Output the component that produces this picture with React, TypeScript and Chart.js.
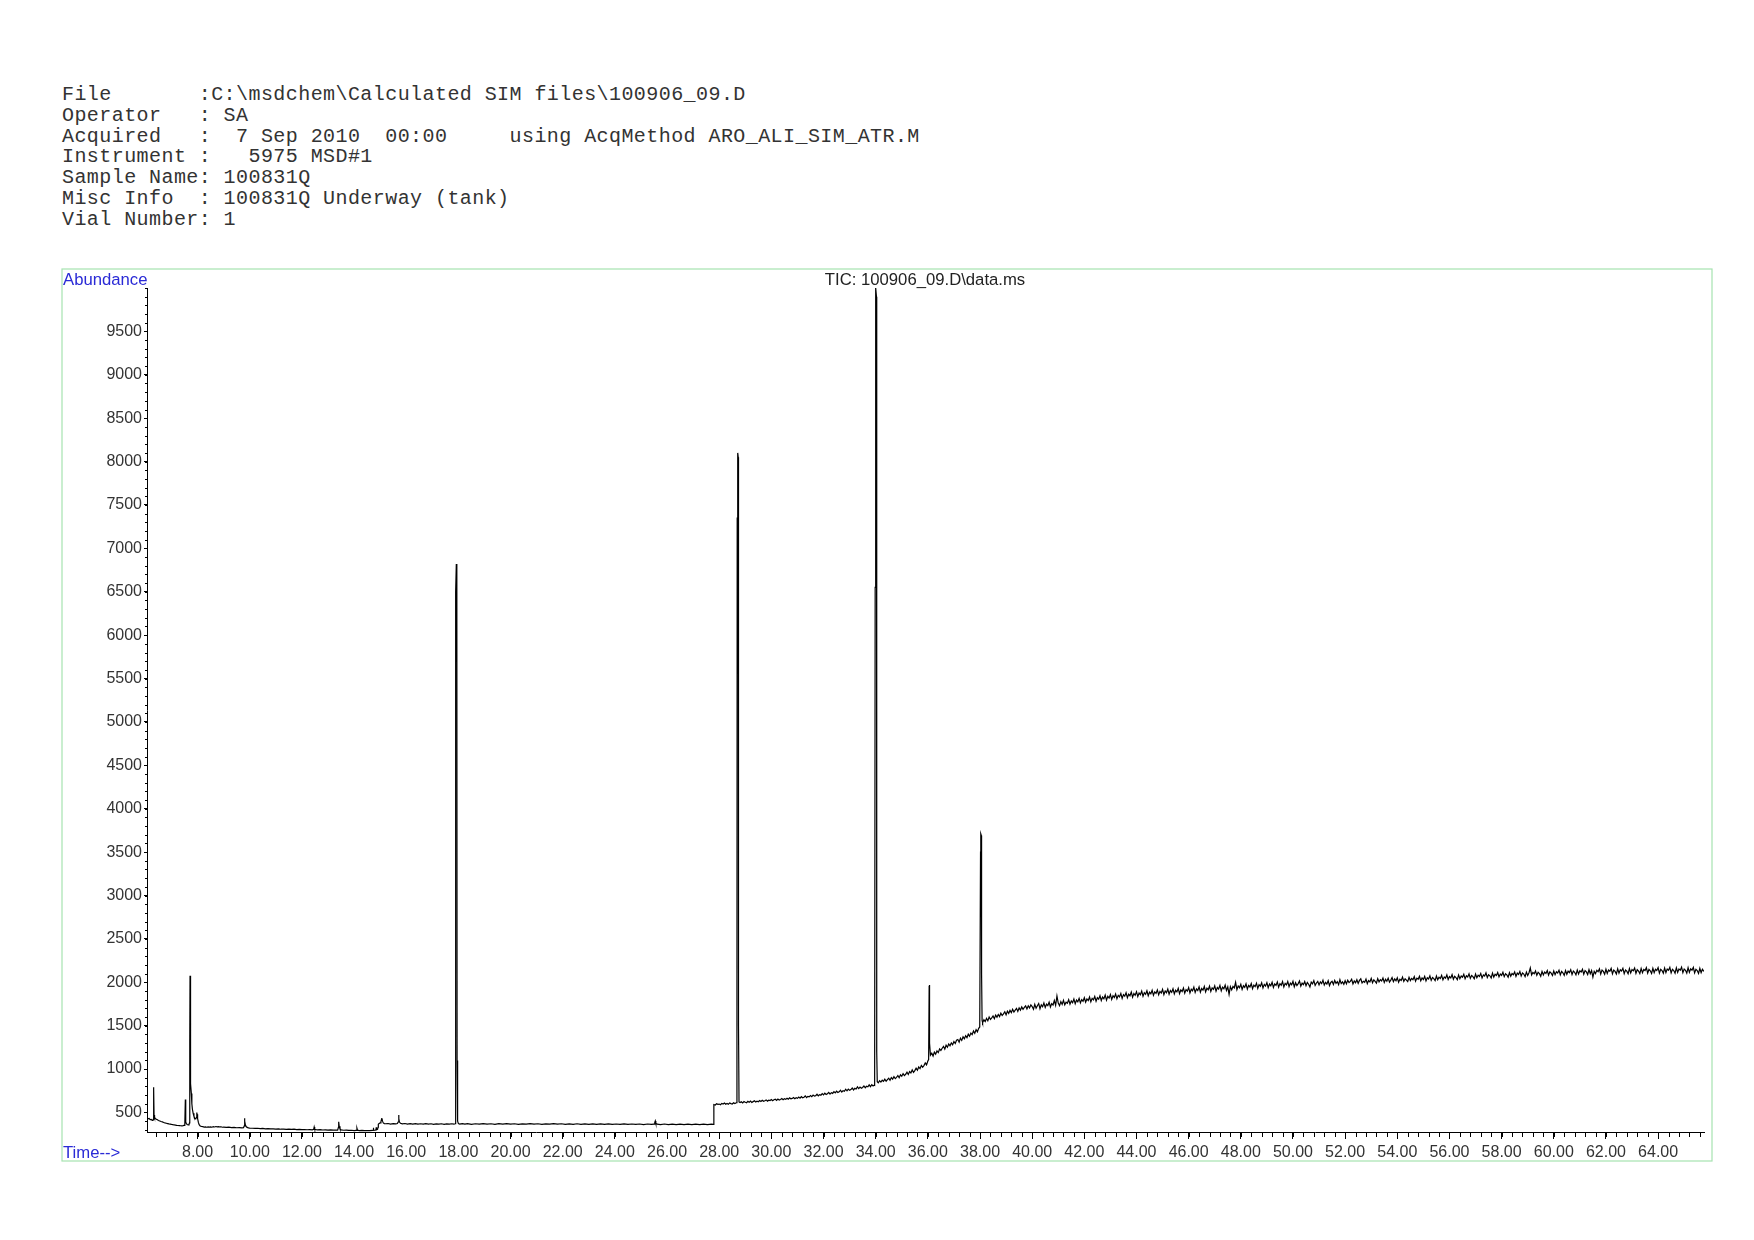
import React, { useEffect, useRef } from "react";
import { Chart, registerables } from "chart.js";

Chart.register(...registerables);

// ---------- header text ----------
const headerLines: string[] = [
  "File       :C:\\msdchem\\Calculated SIM files\\100906_09.D",
  "Operator   : SA",
  "Acquired   :  7 Sep 2010  00:00     using AcqMethod ARO_ALI_SIM_ATR.M",
  "Instrument :   5975 MSD#1",
  "Sample Name: 100831Q",
  "Misc Info  : 100831Q Underway (tank)",
  "Vial Number: 1",
];

const chartTitle = "TIC: 100906_09.D\\data.ms";
const yAxisTitle = "Abundance";
const xAxisTitle = "Time-->";

// ---------- axes ----------
const timeMin = 6.06;
const timeMax = 65.76;
const abundanceMin = 275;
const abundanceMax = 10000;
const timeTicks: number[] = [8, 10, 12, 14, 16, 18, 20, 22, 24, 26, 28, 30, 32, 34, 36, 38, 40, 42, 44, 46, 48, 50, 52, 54, 56, 58, 60, 62, 64];
const abundanceTicks: number[] = [500, 1000, 1500, 2000, 2500, 3000, 3500, 4000, 4500, 5000, 5500, 6000, 6500, 7000, 7500, 8000, 8500, 9000, 9500];

// ---------- trace data: [time (min), abundance] ----------
const traceEarly: [number, number][] = [
  [6.06, 445], [6.1, 428], [6.14, 432], [6.18, 418], [6.22, 420], [6.26, 408], [6.29, 412], [6.3, 420], [6.31, 790], [6.32, 770], [6.33, 470],
  [6.35, 445], [6.38, 430], [6.42, 422], [6.46, 415], [6.5, 408], [6.55, 402], [6.6, 396], [6.65, 392], [6.7, 385], [6.75, 380], [6.8, 376],
  [6.85, 372], [6.9, 368], [6.95, 366], [7.0, 362], [7.05, 360], [7.1, 356], [7.15, 355], [7.2, 352], [7.25, 350], [7.3, 349], [7.35, 347],
  [7.4, 346], [7.45, 348], [7.48, 352], [7.51, 365], [7.53, 650], [7.54, 520], [7.55, 390], [7.57, 370], [7.6, 362], [7.64, 358], [7.67, 362],
  [7.69, 380], [7.7, 1320], [7.71, 2075], [7.72, 2060], [7.73, 1380], [7.74, 830], [7.76, 720], [7.78, 600], [7.8, 540], [7.83, 490],
  [7.86, 455], [7.9, 430], [7.93, 425], [7.96, 445], [7.97, 500], [7.98, 480], [8.0, 430], [8.03, 385], [8.06, 360], [8.1, 345], [8.15, 338],
  [8.2, 336], [8.25, 332], [8.3, 334], [8.35, 330], [8.4, 333], [8.45, 331], [8.5, 334], [8.55, 330], [8.6, 336], [8.65, 333], [8.7, 338],
  [8.75, 334], [8.8, 337], [8.85, 333], [8.9, 335], [8.95, 330], [9.0, 332], [9.1, 328], [9.2, 330], [9.3, 326], [9.4, 328], [9.5, 324],
  [9.6, 326], [9.7, 322], [9.76, 325], [9.79, 345], [9.8, 432], [9.81, 400], [9.83, 360], [9.86, 338], [9.9, 328], [9.95, 322], [10.0, 320],
  [10.1, 318], [10.2, 316], [10.3, 318], [10.4, 314], [10.5, 316], [10.6, 312], [10.7, 314], [10.8, 310], [10.9, 312], [11.0, 309],
  [11.1, 311], [11.2, 307], [11.3, 309], [11.4, 306], [11.5, 308], [11.6, 305], [11.7, 307], [11.8, 303], [11.9, 305], [12.0, 302],
  [12.1, 304], [12.2, 301], [12.3, 303], [12.4, 300], [12.45, 305], [12.47, 332], [12.49, 305], [12.55, 302], [12.6, 300], [12.7, 302],
  [12.8, 298], [12.9, 300], [13.0, 297], [13.1, 299], [13.2, 296], [13.3, 298], [13.37, 296], [13.4, 330], [13.41, 392], [13.43, 340],
  [13.46, 310], [13.5, 300], [13.6, 295], [13.7, 297], [13.8, 293], [13.9, 295], [14.0, 292], [14.08, 294], [14.11, 318], [14.13, 296],
  [14.2, 292], [14.3, 294], [14.4, 290], [14.5, 292], [14.6, 290], [14.7, 293], [14.73, 292], [14.74, 325], [14.75, 294], [14.8, 296],
  [14.84, 298], [14.85, 330], [14.86, 300], [14.9, 305],
];

const traceMiddle: [number, number][] = [
  [14.92, 330], [14.93, 365], [14.96, 372], [15.0, 380], [15.03, 395], [15.06, 428], [15.07, 432], [15.09, 400], [15.12, 380], [15.16, 372],
  [15.2, 370], [15.3, 373], [15.4, 367], [15.5, 372], [15.6, 368], [15.66, 372], [15.69, 390], [15.71, 472], [15.72, 430], [15.74, 390],
  [15.78, 375], [15.85, 369], [15.95, 373], [16.05, 367], [16.15, 372], [16.25, 366], [16.35, 371], [16.45, 365], [16.55, 370], [16.65, 366],
  [16.75, 371], [16.85, 365], [16.95, 370], [17.05, 364], [17.15, 369], [17.25, 365], [17.35, 370], [17.45, 364], [17.55, 369], [17.65, 365],
  [17.75, 370], [17.83, 366], [17.88, 370], [17.89, 1050], [17.9, 6500], [17.92, 6820], [17.94, 6760], [17.95, 1100], [17.97, 400],
  [18.0, 372], [18.05, 367], [18.15, 372], [18.25, 365], [18.35, 371], [18.5, 364], [18.65, 370], [18.8, 365], [18.95, 371], [19.1, 365],
  [19.25, 370], [19.4, 364], [19.55, 371], [19.7, 366], [19.85, 372], [20.0, 365], [20.15, 370], [20.3, 364], [20.45, 369], [20.6, 365],
  [20.75, 371], [20.9, 365], [21.05, 370], [21.2, 364], [21.35, 369], [21.5, 365], [21.65, 371], [21.8, 365], [21.95, 370], [22.1, 364],
  [22.25, 369], [22.4, 364], [22.55, 370], [22.7, 364], [22.85, 369], [23.0, 363], [23.15, 368], [23.3, 363], [23.45, 368], [23.6, 362],
  [23.75, 368], [23.9, 363], [24.05, 367], [24.2, 362], [24.35, 368], [24.5, 362], [24.65, 367], [24.8, 362], [24.95, 367], [25.1, 361],
  [25.25, 367], [25.4, 362], [25.5, 366], [25.53, 385], [25.55, 402], [25.57, 375], [25.62, 365], [25.75, 361], [25.9, 367], [26.05, 361],
  [26.2, 366], [26.35, 360], [26.5, 366], [26.65, 361], [26.8, 366], [26.95, 360], [27.1, 365], [27.25, 360], [27.4, 365], [27.55, 360],
  [27.7, 365], [27.77, 362],
];

const traceLateA: [number, number][] = [
  [27.79, 585], [27.8, 592], [27.85, 586], [27.9, 601], [27.95, 594], [28.0, 597], [28.05, 589], [28.1, 605], [28.15, 598], [28.2, 608],
  [28.25, 595], [28.3, 603], [28.35, 594], [28.4, 610], [28.45, 602], [28.5, 598], [28.55, 611], [28.6, 603], [28.64, 609],
  [28.66, 612], [28.68, 1800], [28.69, 7350], [28.71, 8100], [28.73, 8050], [28.74, 1500], [28.76, 622],
  [28.8, 614], [28.85, 624], [28.9, 611], [28.95, 626], [29.0, 618], [29.05, 612], [29.1, 628], [29.15, 619], [29.2, 632], [29.25, 616],
  [29.3, 625], [29.35, 634], [29.4, 621], [29.45, 630], [29.5, 624], [29.55, 638], [29.6, 627], [29.65, 641], [29.7, 629], [29.75, 636],
  [29.8, 645], [29.85, 631], [29.9, 642], [29.95, 637], [30.0, 648], [30.05, 635], [30.1, 646], [30.15, 652], [30.2, 640], [30.25, 655],
  [30.3, 644], [30.35, 650], [30.4, 660], [30.45, 646], [30.5, 658], [30.55, 651], [30.6, 664], [30.65, 652], [30.7, 668], [30.75, 657],
  [30.8, 662], [30.85, 672], [30.9, 659], [30.95, 670], [31.0, 663], [31.05, 677], [31.1, 665], [31.15, 682], [31.2, 670], [31.25, 676],
  [31.3, 690], [31.35, 672], [31.4, 686], [31.45, 680], [31.5, 696], [31.55, 683], [31.6, 700], [31.65, 688], [31.7, 694], [31.75, 710],
  [31.8, 692], [31.85, 706], [31.9, 699], [31.95, 718], [32.0, 703], [32.05, 722], [32.1, 708], [32.15, 716], [32.2, 732], [32.25, 712],
  [32.3, 728], [32.35, 720], [32.4, 741], [32.45, 726], [32.5, 745], [32.55, 730], [32.6, 738], [32.65, 756], [32.7, 736], [32.75, 752],
  [32.8, 745], [32.85, 768], [32.9, 750], [32.95, 770], [33.0, 755], [33.05, 764], [33.1, 782], [33.15, 760], [33.2, 778], [33.25, 770],
  [33.3, 795], [33.35, 775], [33.4, 792], [33.45, 780], [33.5, 788], [33.55, 806], [33.6, 785], [33.65, 802], [33.7, 796], [33.75, 818],
  [33.8, 798], [33.85, 820], [33.9, 806], [33.94, 815], [33.96, 812],
];

const traceLateB: [number, number][] = [
  [33.98, 6550], [33.99, 9990], [34.01, 10000], [34.03, 9900], [34.04, 1200],
  [34.06, 855], [34.1, 842], [34.15, 866], [34.2, 850], [34.25, 872], [34.3, 858], [34.35, 884], [34.4, 860], [34.45, 878], [34.5, 894],
  [34.55, 870], [34.6, 902], [34.65, 884], [34.7, 912], [34.75, 890], [34.8, 905], [34.85, 926], [34.9, 900], [34.95, 934], [35.0, 918],
  [35.05, 948], [35.1, 925], [35.15, 940], [35.2, 964], [35.25, 938], [35.3, 972], [35.35, 955], [35.4, 990], [35.45, 962], [35.5, 982],
  [35.55, 1010], [35.6, 988], [35.65, 1025], [35.7, 1005], [35.75, 1042], [35.8, 1022], [35.85, 1040], [35.9, 1070], [35.95, 1048],
  [36.0, 1092], [36.03, 1110], [36.05, 1960], [36.06, 1970], [36.07, 1300],
  [36.1, 1160], [36.15, 1182], [36.2, 1150], [36.25, 1195], [36.3, 1172], [36.35, 1210], [36.4, 1190], [36.45, 1232], [36.5, 1215],
  [36.55, 1240], [36.6, 1262], [36.65, 1230], [36.7, 1275], [36.75, 1252], [36.8, 1290], [36.85, 1268], [36.9, 1302], [36.95, 1280],
  [37.0, 1318], [37.05, 1295], [37.1, 1332], [37.15, 1340], [37.2, 1310], [37.25, 1356], [37.3, 1330], [37.35, 1372], [37.4, 1350],
  [37.45, 1385], [37.5, 1362], [37.55, 1402], [37.6, 1378], [37.65, 1415], [37.7, 1398], [37.75, 1440], [37.8, 1412], [37.85, 1455],
  [37.9, 1430], [37.95, 1470], [37.99, 1485], [38.02, 3500], [38.03, 3710], [38.05, 3690], [38.06, 2100], [38.08, 1560],
  [38.1, 1535], [38.15, 1568], [38.2, 1548], [38.25, 1585], [38.3, 1556], [38.35, 1600], [38.4, 1572], [38.45, 1590], [38.5, 1612],
  [38.55, 1580], [38.6, 1622], [38.65, 1598], [38.7, 1630], [38.75, 1605], [38.8, 1645], [38.85, 1618], [38.9, 1636], [38.95, 1660],
  [39.0, 1625], [39.05, 1668], [39.1, 1642], [39.15, 1676], [39.2, 1650], [39.25, 1690], [39.3, 1658], [39.35, 1680], [39.4, 1700],
  [39.45, 1665], [39.5, 1705], [39.55, 1680], [39.6, 1716], [39.65, 1688], [39.7, 1710], [39.75, 1728], [39.8, 1692], [39.85, 1730],
  [39.9, 1705], [39.95, 1740],
];

const traceLateC: [number, number][] = [
  [40.0, 1720], [40.05, 1688], [40.1, 1745], [40.15, 1702], [40.2, 1730], [40.25, 1756], [40.3, 1695], [40.35, 1740], [40.4, 1718],
  [40.45, 1762], [40.5, 1710], [40.55, 1748], [40.6, 1732], [40.65, 1770], [40.7, 1715], [40.75, 1755], [40.8, 1738], [40.85, 1790],
  [40.9, 1735], [40.95, 1842], [41.0, 1760], [41.05, 1730], [41.1, 1778], [41.15, 1745], [41.2, 1792], [41.25, 1740], [41.3, 1770],
  [41.35, 1758], [41.4, 1800], [41.45, 1748], [41.5, 1785], [41.55, 1765], [41.6, 1808], [41.65, 1752], [41.7, 1795], [41.75, 1775],
  [41.8, 1815], [41.85, 1762], [41.9, 1800], [41.95, 1782], [42.0, 1822], [42.05, 1770], [42.1, 1808], [42.15, 1790], [42.2, 1830],
  [42.25, 1775], [42.3, 1815], [42.35, 1798], [42.4, 1838], [42.45, 1782], [42.5, 1822], [42.55, 1805], [42.6, 1845], [42.65, 1790],
  [42.7, 1830], [42.75, 1810], [42.8, 1852], [42.85, 1795], [42.9, 1838], [42.95, 1818], [43.0, 1860], [43.05, 1802], [43.1, 1845],
  [43.15, 1825], [43.2, 1866], [43.25, 1810], [43.3, 1850], [43.35, 1832], [43.4, 1872], [43.45, 1815], [43.5, 1858], [43.55, 1840],
  [43.6, 1880], [43.65, 1822], [43.7, 1862], [43.75, 1845], [43.8, 1888], [43.85, 1828], [43.9, 1870], [43.95, 1850], [44.0, 1892],
  [44.05, 1835], [44.1, 1876], [44.15, 1856], [44.2, 1898], [44.25, 1840], [44.3, 1880], [44.35, 1862], [44.4, 1902], [44.45, 1845],
  [44.5, 1886], [44.55, 1868], [44.6, 1908], [44.65, 1850], [44.7, 1890], [44.75, 1872], [44.8, 1912], [44.85, 1855], [44.9, 1895],
  [44.95, 1876], [45.0, 1918], [45.05, 1858], [45.1, 1900], [45.15, 1880], [45.2, 1922], [45.25, 1862], [45.3, 1905], [45.35, 1885],
  [45.4, 1926], [45.45, 1866], [45.5, 1908], [45.55, 1890], [45.6, 1930], [45.65, 1870], [45.7, 1912], [45.75, 1894], [45.8, 1935],
  [45.85, 1874], [45.9, 1916], [45.95, 1898], [46.0, 1940], [46.05, 1878], [46.1, 1920], [46.15, 1902], [46.2, 1944], [46.25, 1882],
  [46.3, 1924], [46.35, 1906], [46.4, 1948], [46.45, 1886], [46.5, 1928], [46.55, 1910], [46.6, 1952], [46.65, 1890], [46.7, 1932],
  [46.75, 1914], [46.8, 1956], [46.85, 1894], [46.9, 1936], [46.95, 1918], [47.0, 1960], [47.05, 1898], [47.1, 1940], [47.15, 1922],
  [47.2, 1964], [47.25, 1902], [47.3, 1944], [47.35, 1926], [47.4, 1968], [47.45, 1906], [47.5, 1948], [47.55, 1860], [47.6, 1950],
  [47.65, 1912], [47.7, 1952], [47.75, 1935], [47.8, 2000], [47.85, 1915], [47.9, 1958], [47.95, 1938], [48.0, 1978], [48.05, 1918],
  [48.1, 1960], [48.15, 1942], [48.2, 1982], [48.25, 1922], [48.3, 1964], [48.35, 1946], [48.4, 1986], [48.45, 1926], [48.5, 1968],
  [48.55, 1950], [48.6, 1990], [48.65, 1930], [48.7, 1972], [48.75, 1954], [48.8, 1994], [48.85, 1934], [48.9, 1976], [48.95, 1957],
  [49.0, 1996], [49.05, 1938], [49.1, 1980], [49.15, 1960], [49.2, 2000], [49.25, 1940], [49.3, 1982], [49.35, 1964], [49.4, 2004],
  [49.45, 1944], [49.5, 1985], [49.55, 1966], [49.6, 2008], [49.65, 1946], [49.7, 1988], [49.75, 1970], [49.8, 2010], [49.85, 1950],
  [49.9, 1990], [49.95, 1972], [50.0, 2012], [50.05, 1948], [50.1, 1995], [50.15, 1962], [50.2, 1985], [50.25, 2015], [50.3, 1955],
  [50.35, 1990], [50.4, 1972], [50.45, 2008], [50.5, 1960], [50.55, 1998], [50.6, 1978], [50.65, 1945], [50.7, 2002], [50.75, 1982],
  [50.8, 2020], [50.85, 1965], [50.9, 1992], [50.95, 2010], [51.0, 1970], [51.05, 2005], [51.1, 1985], [51.15, 2025], [51.2, 1968],
  [51.25, 2000], [51.3, 1980], [51.35, 2018], [51.4, 1962], [51.45, 1998], [51.5, 2012], [51.55, 1975], [51.6, 2022], [51.65, 1988],
  [51.7, 2008], [51.75, 1972], [51.8, 2030], [51.85, 1985], [51.9, 2005], [51.95, 1978],
];

const traceLateD: [number, number][] = [
  [52.0, 2018], [52.05, 1982], [52.1, 2025], [52.15, 1998], [52.2, 2010], [52.25, 2035], [52.3, 1980], [52.35, 2015], [52.4, 1995],
  [52.45, 2030], [52.5, 1988], [52.55, 2022], [52.6, 2040], [52.65, 1992], [52.7, 2012], [52.75, 2000], [52.8, 2038], [52.85, 1985],
  [52.9, 2020], [52.95, 2005], [53.0, 2045], [53.05, 1995], [53.1, 2028], [53.15, 2010], [53.2, 1990], [53.25, 2042], [53.3, 2005],
  [53.35, 2030], [53.4, 2015], [53.45, 2050], [53.5, 1998], [53.55, 2035], [53.6, 2012], [53.65, 2048], [53.7, 2002], [53.75, 2025],
  [53.8, 2055], [53.85, 2008], [53.9, 2038], [53.95, 2018], [54.0, 2052], [54.05, 2000], [54.1, 2035], [54.15, 2022], [54.2, 2060],
  [54.25, 2010], [54.3, 2040], [54.35, 2025], [54.4, 2008], [54.45, 2058], [54.5, 2020], [54.55, 2045], [54.6, 2030], [54.65, 2065],
  [54.7, 2012], [54.75, 2048], [54.8, 2035], [54.85, 2070], [54.9, 2018], [54.95, 2050], [55.0, 2032], [55.05, 2068], [55.1, 2015],
  [55.15, 2052], [55.2, 2038], [55.25, 2075], [55.3, 2022], [55.35, 2055], [55.4, 2042], [55.45, 2020], [55.5, 2072], [55.55, 2030],
  [55.6, 2058], [55.65, 2045], [55.7, 2080], [55.75, 2028], [55.8, 2062], [55.85, 2048], [55.9, 2085], [55.95, 2032], [56.0, 2065],
  [56.05, 2050], [56.1, 2088], [56.15, 2035], [56.2, 2070], [56.25, 2055], [56.3, 2030], [56.35, 2085], [56.4, 2042], [56.45, 2072],
  [56.5, 2058], [56.55, 2092], [56.6, 2040], [56.65, 2075], [56.7, 2062], [56.75, 2098], [56.8, 2045], [56.85, 2078], [56.9, 2065],
  [56.95, 2040], [57.0, 2095], [57.05, 2052], [57.1, 2082], [57.15, 2068], [57.2, 2102], [57.25, 2050], [57.3, 2085], [57.35, 2072],
  [57.4, 2108], [57.45, 2055], [57.5, 2088], [57.55, 2075], [57.6, 2050], [57.65, 2105], [57.7, 2060], [57.75, 2092], [57.8, 2078],
  [57.85, 2112], [57.9, 2062], [57.95, 2095], [58.0, 2080], [58.05, 2115], [58.1, 2065], [58.15, 2098], [58.2, 2085], [58.25, 2058],
  [58.3, 2110], [58.35, 2070], [58.4, 2102], [58.45, 2088], [58.5, 2120], [58.55, 2068], [58.6, 2105], [58.65, 2090], [58.7, 2125],
  [58.75, 2072], [58.8, 2108], [58.85, 2095], [58.9, 2065], [58.95, 2118], [59.0, 2078], [59.05, 2110], [59.1, 2165], [59.15, 2085],
  [59.2, 2112], [59.25, 2098], [59.3, 2130], [59.35, 2080], [59.4, 2115], [59.45, 2100], [59.5, 2070], [59.55, 2125], [59.6, 2085],
  [59.65, 2118], [59.7, 2102], [59.75, 2135], [59.8, 2082], [59.85, 2120], [59.9, 2105], [59.95, 2078], [60.0, 2130], [60.05, 2088],
  [60.1, 2122], [60.15, 2108], [60.2, 2140], [60.25, 2085], [60.3, 2125], [60.35, 2110], [60.4, 2080], [60.45, 2135], [60.5, 2092],
  [60.55, 2128], [60.6, 2112], [60.65, 2145], [60.7, 2090], [60.75, 2130], [60.8, 2115], [60.85, 2085], [60.9, 2140], [60.95, 2095],
  [61.0, 2132], [61.05, 2118], [61.1, 2150], [61.15, 2092], [61.2, 2135], [61.25, 2120], [61.3, 2090], [61.35, 2145], [61.4, 2098],
  [61.45, 2135], [61.5, 2060], [61.55, 2125], [61.6, 2100], [61.65, 2138], [61.7, 2122], [61.75, 2155], [61.8, 2095], [61.85, 2140],
  [61.9, 2125], [61.95, 2092], [62.0, 2150], [62.05, 2102], [62.1, 2142], [62.15, 2128], [62.2, 2160], [62.25, 2098], [62.3, 2140],
  [62.35, 2125], [62.4, 2095], [62.45, 2155], [62.5, 2105], [62.55, 2145], [62.6, 2130], [62.65, 2162], [62.7, 2100], [62.75, 2142],
  [62.8, 2128], [62.85, 2098], [62.9, 2158], [62.95, 2108], [63.0, 2146], [63.05, 2132], [63.1, 2165], [63.15, 2102], [63.2, 2145],
  [63.25, 2130], [63.3, 2100], [63.35, 2160], [63.4, 2110], [63.45, 2148], [63.5, 2135], [63.55, 2168], [63.6, 2105], [63.65, 2148],
  [63.7, 2132], [63.75, 2102], [63.8, 2162], [63.85, 2112], [63.9, 2150], [63.95, 2136], [64.0, 2170], [64.05, 2106], [64.1, 2150],
  [64.15, 2135], [64.2, 2104], [64.25, 2165], [64.3, 2112], [64.35, 2152], [64.4, 2138], [64.45, 2172], [64.5, 2108], [64.55, 2150],
  [64.6, 2136], [64.65, 2105], [64.7, 2166], [64.75, 2114], [64.8, 2154], [64.85, 2140], [64.9, 2175], [64.95, 2110], [65.0, 2152],
  [65.05, 2138], [65.1, 2106], [65.15, 2168], [65.2, 2115], [65.25, 2155], [65.3, 2140], [65.35, 2172], [65.4, 2108], [65.45, 2150],
  [65.5, 2135], [65.55, 2102], [65.6, 2162], [65.65, 2112], [65.7, 2150], [65.76, 2125],
];

// ---------- styling ----------
const SANS = '"Liberation Sans", Arial, sans-serif';
const MONO = '"Liberation Mono", "DejaVu Sans Mono", monospace';
const BLUE = "#2a2ad6";
const FRAME = "#a6e3b0";
const LABEL = "#333333";

const decorPlugin = {
  id: "decor",
  afterDraw(chart: any) {
    const ctx = chart.ctx as CanvasRenderingContext2D;
    const xs = chart.scales.x;
    const ys = chart.scales.y;
    const area = chart.chartArea;
    ctx.save();
    // minor ticks
    ctx.strokeStyle = "#000";
    ctx.lineWidth = 1;
    ctx.beginPath();
    for (let i = 1; i * 0.4 <= xs.max; i++) {
      const v = i * 0.4;
      if (v < xs.min) continue;
      const px = Math.round(xs.getPixelForValue(v)) + 0.5;
      ctx.moveTo(px, area.bottom);
      ctx.lineTo(px, area.bottom + 5);
    }
    for (let v = 300; v <= ys.max; v += 100) {
      const py = Math.round(ys.getPixelForValue(v)) + 0.5;
      ctx.moveTo(area.left - 2, py);
      ctx.lineTo(area.left, py);
    }
    ctx.stroke();

    // frame
    ctx.strokeStyle = FRAME;
    ctx.lineWidth = 1.2;
    ctx.strokeRect(62, 269, 1650, 892);

    // texts
    ctx.font = `16.7px ${SANS}`;
    ctx.textBaseline = "middle";
    ctx.textAlign = "left";
    ctx.fillStyle = BLUE;
    ctx.fillText(yAxisTitle, 63, 280.5);
    ctx.fillText(xAxisTitle, 63, 1153);
    ctx.fillStyle = "#222";
    ctx.textAlign = "center";
    ctx.fillText(chartTitle, 925, 280.5);
    ctx.restore();
  },
};

export default function App() {
  const canvasRef = useRef<HTMLCanvasElement | null>(null);

  useEffect(() => {
    if (!canvasRef.current) return;
    const points = [...traceEarly, ...traceMiddle, ...traceLateA, ...traceLateB, ...traceLateC, ...traceLateD].map(([x, y]) => ({ x, y }));
    const chart = new Chart(canvasRef.current, {
      type: "line",
      data: {
        datasets: [
          {
            data: points,
            borderColor: "#000",
            borderWidth: 1.2,
            pointRadius: 0,
            fill: false,
            tension: 0,
          },
        ],
      },
      options: {
        animation: false,
        responsive: false,
        devicePixelRatio: 1,
        layout: { padding: { left: 87, right: 50, top: 288, bottom: 68 } },
        plugins: { legend: { display: false }, tooltip: { enabled: false }, title: { display: false } },
        scales: {
          x: {
            type: "linear",
            min: timeMin,
            max: timeMax,
            afterBuildTicks: (s: any) => {
              s.ticks = timeTicks.map((v) => ({ value: v }));
            },
            afterFit: (s: any) => {
              s.height = 40;
            },
            ticks: {
              autoSkip: false,
              maxRotation: 0,
              padding: 4,
              color: LABEL,
              font: { family: SANS, size: 16 },
              callback: (v: any) => Number(v).toFixed(2),
            },
            grid: { display: true, drawOnChartArea: false, drawTicks: true, tickLength: 7, color: "#000", lineWidth: 1 },
            border: { display: true, color: "#000", width: 1 },
          },
          y: {
            type: "linear",
            min: abundanceMin,
            max: abundanceMax,
            afterBuildTicks: (s: any) => {
              s.ticks = abundanceTicks.map((v) => ({ value: v }));
            },
            afterFit: (s: any) => {
              s.width = 60;
            },
            ticks: {
              autoSkip: false,
              padding: 2,
              color: LABEL,
              font: { family: SANS, size: 16 },
              callback: (v: any) => String(v),
            },
            grid: { display: true, drawOnChartArea: false, drawTicks: true, tickLength: 3, color: "#000", lineWidth: 1 },
            border: { display: true, color: "#000", width: 1 },
          },
        },
      } as any,
      plugins: [decorPlugin],
    });
    return () => chart.destroy();
  }, []);

  return (
    <div style={{ position: "absolute", left: 0, top: 0, width: 1754, height: 1240, background: "#fff" }}>
      <div
        style={{
          position: "absolute",
          left: 62,
          top: 85,
          fontFamily: MONO,
          fontSize: 20,
          lineHeight: "20.8px",
          letterSpacing: "0.43px",
          whiteSpace: "pre",
          color: "#333",
        }}
      >
        {headerLines.join("\n")}
      </div>
      <canvas ref={canvasRef} width={1754} height={1240} style={{ position: "absolute", left: 0, top: 0 }} />
    </div>
  );
}
